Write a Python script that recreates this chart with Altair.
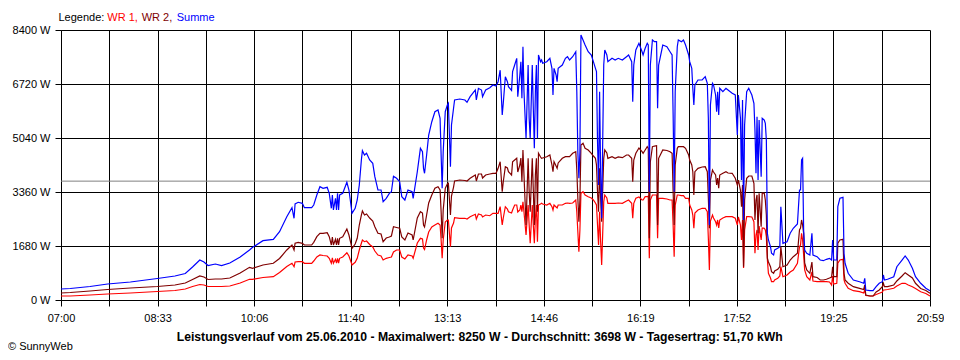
import json
import altair as alt
import pandas as pd

# minute of day (07:00 = 420 ... 20:59 = 1259)
minute_of_day = [
    420, 429, 448, 465, 487, 513, 530, 540, 547, 554, 558, 562, 569, 575, 583, 593, 602, 605, 615, 625,
    631, 638, 643, 645, 646, 649, 653, 655, 662, 664, 667, 670, 673, 677, 679, 681, 682, 683, 685, 686,
    687, 688, 689, 692, 696, 698, 701, 704, 706, 708, 710, 711, 713, 715, 718, 721, 723, 726, 729, 731,
    734, 737, 739, 741, 744, 747, 749, 752, 755, 759, 760, 764, 767, 769, 770, 771, 773, 775, 778, 781,
    784, 786, 787, 788, 789, 791, 793, 794, 796, 797, 799, 800, 805, 810, 812, 815, 820, 821, 823, 826,
    827, 830, 834, 837, 840, 842, 844, 846, 847, 849, 851, 852, 855, 856, 858, 860, 861, 863, 864, 865,
    866, 867, 869, 871, 872, 873, 875, 876, 877, 878, 879, 880, 881, 883, 884, 885, 889, 892, 894, 895,
    896, 898, 899, 900, 904, 907, 909, 911, 914, 917, 918, 919, 920, 921, 922, 924, 926, 929, 932, 934,
    936, 937, 938, 939, 940, 941, 942, 944, 945, 947, 948, 952, 955, 958, 962, 966, 968, 971, 972, 973,
    975, 978, 981, 982, 984, 986, 987, 988, 989, 991, 993, 995, 996, 997, 1001, 1005, 1008, 1010, 1011, 1012,
    1013, 1015, 1016, 1019, 1021, 1023, 1026, 1027, 1029, 1030, 1031, 1032, 1035, 1039, 1042, 1044, 1045, 1046, 1047, 1049,
    1050, 1052, 1053, 1054, 1055, 1056, 1059, 1062, 1064, 1068, 1071, 1073, 1074, 1076, 1077, 1078, 1079, 1080, 1082, 1084,
    1087, 1089, 1090, 1091, 1092, 1093, 1094, 1096, 1097, 1099, 1100, 1101, 1102, 1103, 1105, 1106, 1108, 1109, 1112, 1114,
    1115, 1117, 1121, 1124, 1127, 1131, 1133, 1134, 1135, 1136, 1137, 1138, 1140, 1143, 1145, 1146, 1150, 1153, 1156, 1159,
    1162, 1164, 1165, 1166, 1169, 1170, 1172, 1175, 1176, 1177, 1180, 1185, 1191, 1195, 1196, 1197, 1201, 1204, 1207, 1210,
    1213, 1214, 1215, 1218, 1224, 1227, 1232, 1235, 1238, 1242, 1245, 1250, 1255, 1259,
]

summe_w = [
    342, 358, 420, 498, 560, 669, 747, 824, 1027, 1244, 1182, 1073, 1120, 1073, 1151, 1338, 1556, 1639, 1845, 1888,
    2125, 2591, 2871, 2542, 2987, 3040, 3008, 2871, 2871, 2955, 3267, 3525, 3475, 3506, 3319, 2853, 3267, 2800, 3164, 2800,
    3319, 2800, 3267, 3319, 3662, 3422, 2697, 2853, 3111, 3578, 4355, 4645, 4511, 4564, 4355, 4253, 3836, 3422, 3422, 3058,
    3164, 3319, 3369, 3850, 3786, 3680, 3214, 3111, 3422, 3369, 3164, 3991, 4719, 4614, 4097, 3942, 4511, 5133, 5547, 5858,
    5911, 5653, 4511, 3475, 4614, 5858, 6066, 6119, 4147, 5444, 5964, 6222, 6253, 6222, 6151, 6325, 6533, 6222, 6586, 6533,
    6325, 6533, 6605, 6689, 6657, 6791, 7150, 5755, 6119, 6947, 6791, 6636, 6520, 7103, 7311, 7519, 6325, 7000, 7414, 6275,
    7880, 6480, 5030, 7311, 5653, 5030, 7311, 5964, 4719, 6480, 7311, 5030, 7622, 7414, 7466, 7364, 7414, 7519, 7207, 6378,
    7207, 7000, 6791, 7207, 7311, 7519, 7569, 7466, 7569, 7725, 6480, 4614, 3786, 4614, 8244, 8089, 7933, 7725, 7622, 7414,
    7207, 7103, 4925, 3578, 6480, 3991, 2542, 7311, 7778, 7622, 7414, 7519, 7466, 7519, 7466, 7569, 7622, 7414, 6169, 7311,
    7778, 7985, 7725, 7622, 7830, 7985, 7933, 3369, 7311, 8089, 8036, 8036, 5964, 7311, 7933, 7880, 7725, 7622, 5755, 3369,
    6480, 7880, 8089, 8036, 8089, 7933, 7622, 7414, 7207, 6586, 6066, 6689, 6844, 6844, 6947, 6741, 5653, 2333, 6066, 6741,
    6689, 6378, 5858, 6480, 5755, 6586, 6480, 6586, 6533, 6430, 6378, 5133, 6378, 5653, 3733, 6222, 2489, 5444, 6480, 6586,
    6378, 6119, 5289, 3942, 5702, 3733, 5600, 3836, 5653, 5600, 5497, 4978, 2075, 1867, 1658, 1453, 1400, 1556, 1608, 1658,
    2903, 1764, 1814, 2075, 2231, 2364, 3422, 3422, 4355, 4408, 2178, 1556, 1453, 1400, 2075, 1400, 1347, 1244, 1223, 1266,
    1297, 1244, 1867, 1244, 1244, 2903, 3164, 3195, 1453, 1142, 831, 622, 569, 520, 675, 311, 289, 289, 414, 520,
    569, 778, 622, 644, 725, 1036, 1244, 1369, 1244, 986, 725, 520, 364, 289,
]

wr2_w = [
    218, 233, 280, 327, 373, 420, 467, 529, 638, 747, 716, 638, 653, 653, 684, 840, 1017, 986, 1089, 1142,
    1291, 1556, 1711, 1556, 1764, 1795, 1764, 1711, 1711, 1795, 1969, 2075, 2075, 2094, 1969, 1711, 1960, 1711, 1888, 1711,
    1919, 1711, 1919, 1969, 2209, 2022, 1608, 1742, 1919, 2333, 2644, 2769, 2644, 2676, 2551, 2458, 2281, 2075, 2053, 1814,
    1929, 1960, 1991, 2281, 2255, 2231, 1960, 1867, 2084, 2022, 1867, 2551, 2747, 2707, 2333, 2271, 2644, 3018, 3267, 3475,
    3525, 3422, 2747, 1919, 2800, 3475, 3609, 3630, 2644, 3235, 3515, 3702, 3733, 3718, 3702, 3786, 3889, 3702, 3920, 3920,
    3795, 3889, 3920, 3942, 3942, 4097, 4303, 3369, 3680, 4147, 4107, 3991, 3889, 4303, 4355, 4408, 3982, 4200, 4418, 3680,
    4667, 3889, 2333, 4408, 3369, 2747, 4408, 3422, 2333, 3889, 4408, 2747, 4564, 4449, 4408, 4418, 4458, 4511, 4200, 3991,
    4303, 4169, 4097, 4263, 4408, 4458, 4458, 4458, 4564, 4614, 4044, 3164, 2436, 3111, 4822, 4875, 4719, 4667, 4564, 4480,
    4408, 4200, 3369, 2747, 4097, 3164, 2436, 4408, 4667, 4574, 4408, 4458, 4408, 4449, 4427, 4511, 4511, 4408, 3680, 4355,
    4564, 4729, 4614, 4564, 4667, 4769, 4719, 1919, 4303, 4769, 4790, 4801, 2333, 4408, 4667, 4652, 4614, 4564, 3369, 2333,
    4200, 4719, 4769, 4769, 4769, 4719, 4511, 4355, 4200, 3991, 3267, 3991, 4097, 4138, 4147, 3991, 3164, 2231, 3733, 4044,
    3982, 3889, 3578, 3795, 3475, 3889, 3942, 3991, 3951, 3942, 3786, 3578, 3733, 3422, 2903, 3578, 1036, 3111, 3786, 3858,
    3858, 3630, 2489, 3111, 3267, 2075, 3319, 2281, 3329, 3319, 3111, 2644, 1300, 1182, 1036, 880, 831, 902, 955, 1036,
    1658, 1036, 1089, 1244, 1347, 1453, 2178, 2240, 2489, 2333, 2075, 1151, 933, 831, 1182, 725, 700, 622, 622, 644,
    684, 716, 1036, 725, 725, 1764, 1867, 1888, 831, 622, 520, 414, 364, 327, 467, 156, 124, 124, 249, 311,
    414, 520, 414, 414, 467, 591, 747, 849, 778, 684, 520, 358, 296, 208,
]

wr1_w = [
    124, 124, 156, 187, 218, 264, 296, 342, 420, 482, 467, 420, 420, 420, 436, 529, 644, 644, 700, 725,
    856, 1042, 1142, 1036, 1182, 1192, 1192, 1142, 1142, 1213, 1338, 1400, 1384, 1369, 1297, 1142, 1307, 1142, 1266, 1151,
    1297, 1151, 1297, 1338, 1471, 1369, 1089, 1172, 1297, 1556, 1764, 1867, 1814, 1836, 1727, 1649, 1524, 1400, 1369, 1244,
    1297, 1322, 1338, 1493, 1556, 1556, 1338, 1276, 1400, 1369, 1297, 1773, 1919, 1898, 1618, 1571, 1867, 2116, 2271, 2333,
    2386, 2333, 1867, 1297, 1867, 2427, 2489, 2489, 1658, 2240, 2395, 2561, 2542, 2542, 2520, 2591, 2666, 2520, 2676, 2644,
    2582, 2644, 2622, 2697, 2697, 2697, 2903, 2333, 2551, 2903, 2831, 2747, 2707, 2800, 2955, 2955, 2738, 2800, 2955, 2747,
    3058, 2738, 2022, 2955, 2333, 1764, 2955, 2333, 1764, 2551, 2955, 1814, 2955, 2987, 3008, 2987, 2955, 3008, 2903, 2800,
    2955, 2893, 2862, 2955, 2955, 3008, 3018, 3008, 3018, 3111, 2738, 2125, 1503, 2178, 3319, 3369, 3267, 3214, 3173, 3111,
    3018, 2955, 2333, 1711, 2747, 1814, 1089, 3058, 3267, 3173, 3008, 3008, 3008, 3018, 3008, 3080, 3111, 3008, 2542, 3008,
    3164, 3204, 3111, 3111, 3214, 3214, 3235, 1297, 3111, 3267, 3267, 3267, 1919, 3164, 3164, 3142, 3111, 3111, 2333, 1347,
    2955, 3267, 3267, 3245, 3245, 3164, 3164, 2955, 2800, 2644, 2231, 2707, 2800, 2853, 2853, 2747, 1919, 933, 2458, 2644,
    2551, 2436, 2333, 2489, 2240, 2489, 2551, 2591, 2591, 2591, 2542, 2333, 2582, 2333, 1867, 2489, 995, 2178, 2591, 2591,
    2582, 2436, 1453, 2022, 2178, 1556, 2302, 1867, 2240, 2231, 2178, 1969, 1244, 831, 684, 569, 569, 622, 675, 747,
    1036, 725, 778, 871, 933, 1142, 1658, 1711, 2075, 1867, 1400, 933, 725, 622, 871, 591, 569, 569, 569, 569,
    560, 467, 747, 498, 520, 1142, 1244, 1266, 622, 520, 364, 289, 258, 218, 311, 140, 124, 124, 171, 208,
    249, 311, 311, 327, 364, 436, 520, 520, 467, 414, 358, 258, 202, 124,
]

average_w = 3698
y_tick_values = [0, 1680, 3360, 5040, 6720, 8400]
x_tick_labels = ["07:00", "", "08:33", "", "10:06", "", "11:40", "", "13:13", "",
                 "14:46", "", "16:19", "", "17:52", "", "19:25", "", "20:59"]
day_start, day_end = 420, 1259

legend_parts = [("Legende:", "#000000"), ("WR 1,", "#FF0000"), ("WR 2,", "#800000"), ("Summe", "#0000FF")]
footer = "Leistungsverlauf vom 25.06.2010 - Maximalwert: 8250 W - Durchschnitt: 3698 W - Tagesertrag: 51,70 kWh"
copyright_text = "© SunnyWeb"

FONT = "Liberation Sans"

df = pd.DataFrame({"t": minute_of_day, "wr1": wr1_w, "wr2": wr2_w, "summe": summe_w})

step = (day_end - day_start) / 18
grid_minutes = [day_start + k * step for k in range(19)]
label_expr = (json.dumps(x_tick_labels) + f"[round((datum.value - {day_start}) / {step})]")

x_enc = alt.X(
    "t:Q",
    scale=alt.Scale(domain=[day_start, day_end], nice=False, zero=False),
    axis=alt.Axis(values=grid_minutes, labelExpr=label_expr, title=None, grid=True,
                  tickSize=6, labelPadding=6, labelFlush=False, labelOverlap=False),
)


def y_enc(field):
    return alt.Y(
        f"{field}:Q",
        scale=alt.Scale(domain=[0, 8400], nice=False),
        axis=alt.Axis(values=y_tick_values, labelExpr="datum.value + ' W'", title=None,
                      grid=True, tickSize=6, labelPadding=5, labelOverlap=False),
    )


avg_rule = alt.Chart(pd.DataFrame({"avg": [average_w]})).mark_rule(
    color="#808080", strokeWidth=1
).encode(y=alt.Y("avg:Q", scale=alt.Scale(domain=[0, 8400], nice=False)))

base = alt.Chart(df)
LW = 1.2
line_wr1 = base.mark_line(color="#FF0000", strokeWidth=LW).encode(x=x_enc, y=y_enc("wr1"))
line_wr2 = base.mark_line(color="#800000", strokeWidth=LW).encode(x=x_enc, y=y_enc("wr2"))
line_sum = base.mark_line(color="#0000FF", strokeWidth=LW).encode(x=x_enc, y=y_enc("summe"))


def text_mark(text, x, y, color="#000000", bold=False, align="left", size=11):
    return alt.Chart(pd.DataFrame({"label": [text]})).mark_text(
        align=align, baseline="alphabetic", font=FONT, fontSize=size,
        fontWeight="bold" if bold else "normal", color=color,
    ).encode(x=alt.value(x), y=alt.value(y), text="label:N")


legend_x = [-2.5, 46.3, 80.7, 115.7]
legend_layers = [text_mark(t, xx, -9.5, c) for (t, c), xx in zip(legend_parts, legend_x)]
footer_layer = text_mark(footer, 418.7, 310.7, bold=True, align="center", size=12.2)
copyright_layer = text_mark(copyright_text, -53, 320)

chart = alt.layer(
    line_wr1, avg_rule, line_wr2, line_sum, *legend_layers, footer_layer, copyright_layer
).resolve_scale(y="shared").properties(
    width=869,
    height=270,
    padding={"left": 53, "top": 22, "right": 14, "bottom": 52},
    autosize=alt.AutoSizeParams(type="none"),
    background="white",
).configure_view(stroke=None).configure_axis(
    gridColor="#000000", gridOpacity=1, gridWidth=1,
    domainColor="#000000", tickColor="#000000",
    labelColor="#000000", labelFont=FONT, labelFontSize=11,
)

chart.save("out.html", embed_options={"renderer": "svg", "actions": False})
